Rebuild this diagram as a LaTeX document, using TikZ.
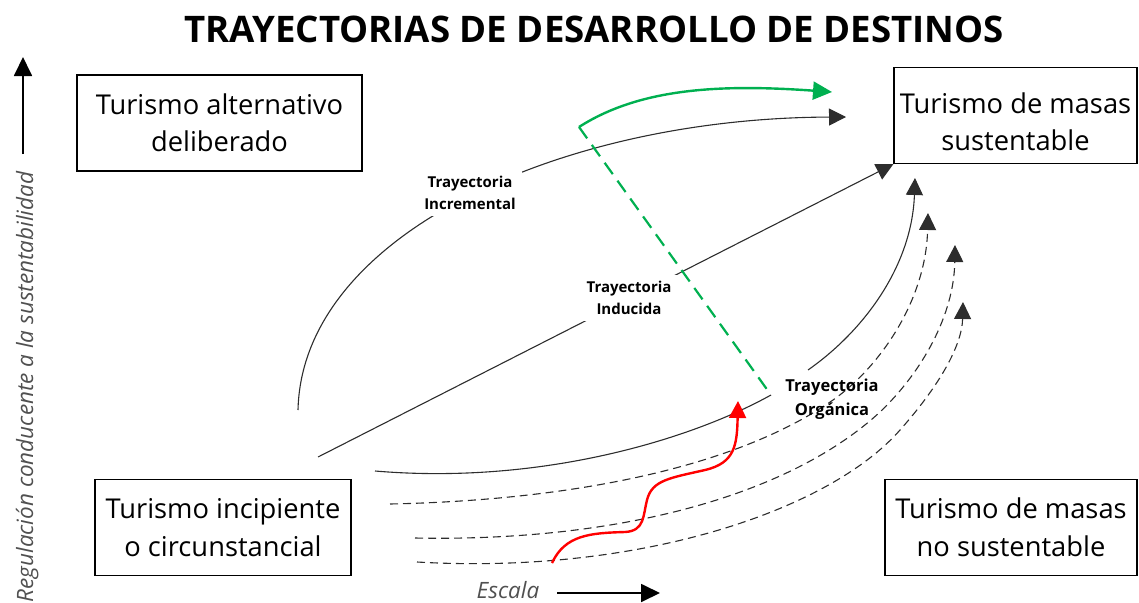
\documentclass[tikz,border=0pt]{standalone}
\usepackage{fontspec}
\setmainfont{Open Sans}
\usetikzlibrary{arrows.meta}
\definecolor{grn}{RGB}{0,176,80}
\definecolor{lineg}{RGB}{45,45,45}
\definecolor{axtext}{RGB}{80,80,80}
\begin{document}
\begin{tikzpicture}[x=1pt,y=-1pt,
  box/.style={draw=black,line width=1.3pt,minimum height=96pt,align=center,inner sep=0pt,
    font=\fontsize{27.3}{37.5}\selectfont},
  boxtext/.style={align=center,inner sep=0pt,font=\fontsize{27.3}{37.5}\selectfont},
  traj/.style={draw=lineg,line width=1.1pt},
  dsh/.style={draw=lineg,line width=1.1pt,dash pattern=on 8pt off 5pt},
  tip/.style={-{Triangle[length=17pt,width=17pt]}},
  lbl/.style={font=\bfseries\fontsize{15}{22}\selectfont,align=center,inner sep=6pt},
  axis/.style={draw=black,line width=1.8pt,-{Triangle[length=19pt,width=18pt]}},
  axlabel/.style={text=axtext,font=\itshape\fontsize{22.5}{26}\selectfont,inner sep=0pt},
]
\useasboundingbox (0,0) rectangle (1139,602);
% title
\node[font=\bfseries\fontsize{36.6}{40}\selectfont] (title) at (594,29) {TRAYECTORIAS DE DESARROLLO DE DESTINOS};
% boxes
\node[box,minimum width=285pt] (alt) at (219.5,123) {Turismo alternativo\\deliberado};
\node[box,minimum width=243pt] (sus) at (1015.5,115.5) {};
\node[boxtext] (sust) at (1015.5,122) {Turismo de masas\\sustentable};
\node[box,minimum width=256pt] (inc) at (223,527.5) {Turismo incipiente\\o circunstancial};
\node[box,minimum width=252pt] (nos) at (1011,527.5) {Turismo de masas\\no sustentable};
% axes
\coordinate (vb) at (23,154);
\coordinate (vt) at (23,57);
\draw[axis] (vb) -- (vt);
\node[axlabel,rotate=90,anchor=base] (vlab) at (33,387) {Regulación conducente a la sustentabilidad};
\node[axlabel,anchor=base] (esc) at (508,598) {Escala};
\coordinate (es) at (557,593);
\coordinate (ee) at (660,593);
\draw[axis] (es) -- (ee);
% incremental trajectory
\coordinate (i0) at (298,410);
\coordinate (i1) at (846,117);
\draw[traj,tip] (i0) .. controls (302,235) and (560,118) .. (i1);
\node[lbl,fill=white] (linc) at (470,193) {Trayectoria\\Incremental};
% induced trajectory
\coordinate (d0) at (318,457);
\draw[traj,tip] (d0) -- (sus.south west);
\node[lbl,fill=white] (lind) at (629,298) {Trayectoria\\Inducida};
% organic trajectory (solid)
\coordinate (o0) at (375,471);
\coordinate (o1) at (771,395);
\coordinate (o2) at (808,370);
\coordinate (o3) at (915,178);
\draw[traj] (o0) .. controls (540,485) and (690,440) .. (o1);
\draw[traj,tip] (o2) .. controls (865,330) and (912,265) .. (o3);
% dashed organic variants
\coordinate (a0) at (390,504);
\coordinate (a1) at (928,213);
\draw[dsh,tip] (a0) .. controls (580,500) and (740,465) .. (833,400)
  .. controls (880,367) and (926,300) .. (a1);
\coordinate (b0) at (415,538);
\coordinate (b1) at (955,245);
\draw[dsh,tip] (b0) .. controls (620,542) and (790,495) .. (880,412)
  .. controls (922,372) and (954,315) .. (b1);
\coordinate (c0) at (417,562);
\coordinate (c1) at (963,302);
\draw[dsh,tip] (c0) .. controls (640,575) and (830,510) .. (900,430)
  .. controls (940,385) and (962,345) .. (c1);
\node[lbl,inner sep=0pt,font=\bfseries\fontsize{16.5}{24}\selectfont] (lorg) at (832,399) {Trayectoria\\Orgánica};
% green
\coordinate (g0) at (579,127);
\coordinate (g1) at (832,92);
\draw[grn,line width=2.4pt,-{Triangle[length=19pt,width=18pt]}] (g0) .. controls (640,88) and (720,84) .. (g1);
\draw[grn,line width=2.2pt,dash pattern=on 14pt off 8pt] (g0) -- (o1);
% red
\coordinate (r0) at (552,563);
\coordinate (r1) at (738,401);
\draw[red,line width=2.4pt,-{Triangle[length=17pt,width=17pt]}] (r0) .. controls (565,535) and (590,533) .. (625,532)
  .. controls (645,531) and (643,515) .. (647,500)
  .. controls (652,480) and (670,478) .. (705,470)
  .. controls (735,463) and (737,445) .. (r1);
\end{tikzpicture}
\end{document}
